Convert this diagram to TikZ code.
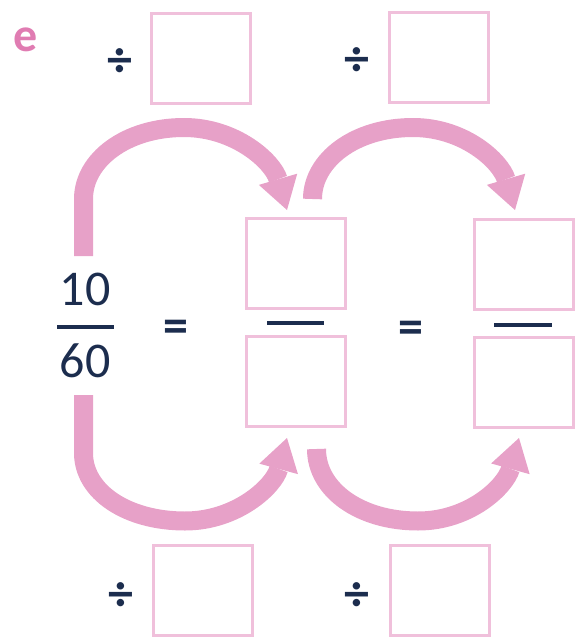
\documentclass[tikz,border=0pt]{standalone}
\usepackage{fontspec}
\setmainfont{Carlito}
\usetikzlibrary{arrows.meta}
\definecolor{arrowpink}{RGB}{231,161,200}
\definecolor{boxpink}{RGB}{240,192,219}
\definecolor{labelpink}{RGB}{224,124,178}
\definecolor{navy}{RGB}{28,45,78}
\begin{document}
\begin{tikzpicture}[x=1pt,y=-1pt,
  ansbox/.style={draw=boxpink,line width=3pt,minimum width=99pt,minimum height=90pt,inner sep=0pt},
  txt/.style={text=navy,font=\fontsize{50}{60}\selectfont,inner sep=0pt},
  sym/.style={text=navy,font=\bfseries\fontsize{50}{60}\selectfont,inner sep=0pt},
  lbl/.style={text=labelpink,font=\bfseries\fontsize{48}{58}\selectfont,inner sep=0pt},
  fbar/.style={draw=navy,line width=4pt},
  flow/.style={draw=arrowpink,line width=19pt,-{Triangle[length=32pt,width=40pt,line width=0pt]}}]
\useasboundingbox (0,0) rectangle (579,637);
% label
\node[lbl] (tag) at (25.5,39.5) {e};
% answer boxes
\node[ansbox] (t1) at (201,58.5) {};
\node[ansbox] (t2) at (439,57.5) {};
\node[ansbox] (m1) at (296,263.5) {};
\node[ansbox] (m2) at (296,381.5) {};
\node[ansbox] (r1) at (523.5,264.5) {};
\node[ansbox] (r2) at (523.5,382.5) {};
\node[ansbox] (b1) at (203,590.5) {};
\node[ansbox] (b2) at (439.5,590.5) {};
% division signs
\node[sym] (d1) at (119.5,63) {÷};
\node[sym] (d2) at (357,62) {÷};
\node[sym] (d3) at (121,597) {÷};
\node[sym] (d4) at (357,597) {÷};
% given fraction
\node[txt] (num) at (85,289) {10};
\node[txt] (den) at (85,361) {60};
\draw[fbar] (57,327) -- (114,327);
% equals signs
\node[sym] (eq1) at (176,331) {=};
\node[sym] (eq2) at (411,332) {=};
% fraction bars between boxes
\draw[fbar] (267,323) -- (324,323);
\draw[fbar] (494,325) -- (552,325);
% arrow end points
\coordinate (a1s) at (83.5,256);
\coordinate (a1e) at (287,210);
\coordinate (a2s) at (312.5,199);
\coordinate (a2e) at (515,210);
\coordinate (a3s) at (83.5,395);
\coordinate (a3e) at (287,438);
\coordinate (a4s) at (316.5,449);
\coordinate (a4e) at (519,438);
% arrows
\draw[flow] (a1s) -- (83.5,199) .. controls (83.5,160) and (126,127.5) .. (184,127.5) .. controls (236,127.5) and (273,162) .. (a1e);
\draw[flow] (a2s) .. controls (312.5,160) and (355,127.5) .. (413,127.5) .. controls (465,127.5) and (501,162) .. (a2e);
\draw[flow] (a3s) -- (83.5,453) .. controls (83.5,492) and (127,521) .. (185,521) .. controls (237,521) and (274,486) .. (a3e);
\draw[flow] (a4s) .. controls (316.5,490) and (360,521) .. (418,521) .. controls (470,521) and (505.6,486) .. (a4e);
\end{tikzpicture}
\end{document}
